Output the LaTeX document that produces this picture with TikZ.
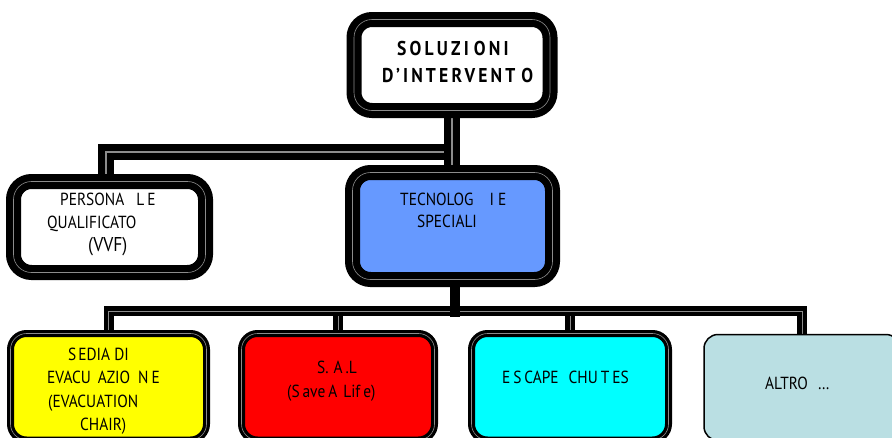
\documentclass[tikz,border=0pt]{standalone}
\usepackage{fontspec}
\setmainfont{PT Sans}[FakeStretch=0.88]
\newfontfamily\topfont{PT Sans}[LetterSpace=16, FakeStretch=0.88]
\definecolor{techblue}{HTML}{6699FF}
\definecolor{altrofill}{HTML}{BADFE3}
\definecolor{boxyellow}{RGB}{255,255,0}
\definecolor{boxred}{RGB}{255,0,0}
\definecolor{boxcyan}{RGB}{0,255,255}
\definecolor{seam}{gray}{0.55}
\tikzset{
  bigbox/.style={draw=black, line width=7.2pt, double=seam, double distance=0.6pt,
    rounded corners=18pt, minimum width=#1, minimum height=91pt, outer sep=0pt, inner sep=0pt},
  lowbox/.style={draw=black, line width=3.2pt, double=seam, double distance=0.6pt,
    rounded corners=16pt, minimum width=196pt, minimum height=106.5pt, outer sep=0pt, inner sep=0pt},
  plainbox/.style={draw=black, line width=1.5pt, rounded corners=14pt,
    minimum width=196pt, minimum height=106pt, outer sep=0pt, inner sep=0pt},
  upconn/.style={draw=black, line width=7pt, double=seam, double distance=1.2pt},
  lowconn/.style={draw=black, line width=4.5pt, double=seam, double distance=1pt},
  solidconn/.style={draw=black, line width=10pt},
  txt/.style={anchor=base west, inner sep=0pt, font=\fontsize{17.5}{18}\selectfont},
  toptxt/.style={anchor=base west, inner sep=0pt, font=\topfont\bfseries\fontsize{20}{20}\selectfont},
}
\begin{document}
\begin{tikzpicture}[x=1pt, y=-1pt]
\useasboundingbox (0,0) rectangle (892,437);
% upper connectors
\draw[upconn] (452,110) |- (106,152) -- (106,175);
\draw[upconn] (452,110) -- (452,173);
% lower connectors
\draw[lowconn] (338,311) -- (338,334);
\draw[lowconn] (570,311) -- (570,334);
\draw[lowconn] (108.5,334) |- (802,311) -- (802,335);
\draw[solidconn] (455,279) -- (455,317);
% boxes
\node[bigbox=196pt, fill=white] (top) at (452,65) {};
\node[bigbox=192pt, fill=white] (left) at (109.5,227) {};
\node[bigbox=200pt, fill=techblue, minimum height=107pt] (tech) at (452.5,226) {};
\node[lowbox, fill=boxyellow] (yel) at (108.5,386.75) {};
\node[lowbox, fill=boxred, minimum width=193pt] (red) at (338,386.75) {};
\node[lowbox, fill=boxcyan, minimum width=197pt] (cya) at (570,386.75) {};
\node[plainbox, fill=altrofill] (alt) at (802,387.5) {};
% texts
\node[toptxt] (t1) at (397,55) {SOLUZI\hspace{5pt}ONI};
\node[toptxt] (t2) at (382,82) {D’IN\hspace{3pt}TERVENT\hspace{6pt}O};
\node[txt] (l1) at (60,205.5) {PERSONA\hspace{12pt}L\hspace{3pt}E};
\node[txt] (l2) at (47,228) {QUALIFICATO};
\node[txt, font=\fontsize{20}{20}\selectfont] (l3) at (88,251) {(VVF)};
\node[txt] (c1) at (400,205) {TECNOLOG\hspace{16pt}I\hspace{4pt}E};
\node[txt] (c2) at (417,227.5) {SPECIALI};
\node[txt] (y1) at (68,360) {S\hspace{2pt}EDIA DI};
\node[txt] (y2) at (47,383) {EVACU\hspace{7pt}AZIO\hspace{8pt}N\hspace{3pt}E};
\node[txt] (y3) at (48,407) {(EVACUATION};
\node[txt] (y4) at (80,430) {CHAIR)};
\node[txt] (r1) at (317,373) {S.\hspace{5pt}A\,.L};
\node[txt] (r2) at (287,397) {(S\,ave\hspace{3pt}A\hspace{6pt}Lif\hspace{3pt}e)};
\node[txt] (e1) at (502,383) {E\,S\,CAPE\hspace{10pt}CHU\hspace{3pt}T\,ES};
\node[txt] (a1) at (765,389) {ALTRO\hspace{10pt}…};
\end{tikzpicture}
\end{document}
